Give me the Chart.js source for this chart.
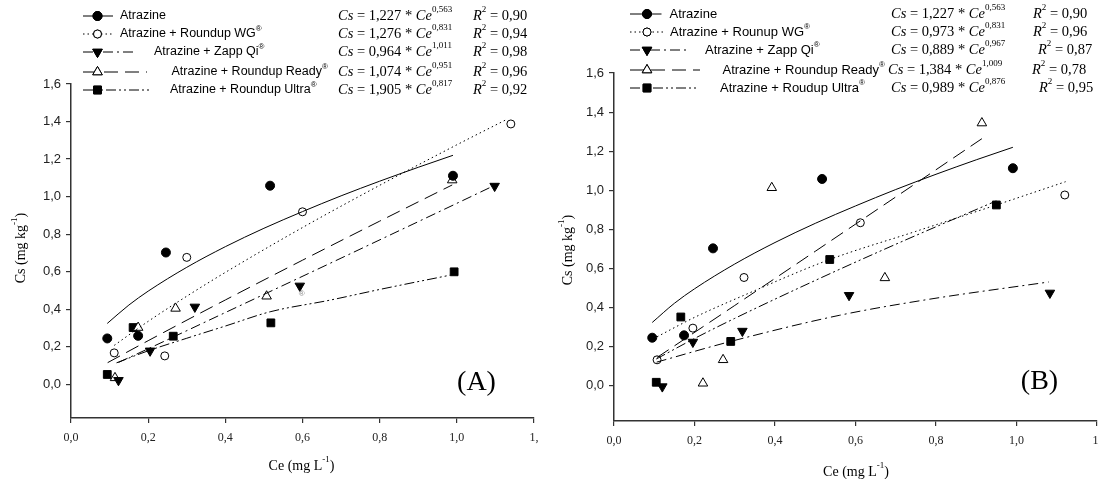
<!DOCTYPE html>
<html>
<head>
<meta charset="utf-8">
<script src="https://cdn.jsdelivr.net/npm/chart.js@4.4.1/dist/chart.umd.min.js"></script>
<style>
  html, body { margin: 0; padding: 0; background: #fff; overflow: hidden; }
  body { width: 1099px; height: 479px; position: relative; }
  canvas { position: absolute; top: 0; }
  #chartA { left: 0; }
  #chartB { left: 550px; }
</style>
</head>
<body>
<canvas id="chartA" width="548" height="479"></canvas>
<canvas id="chartB" width="560" height="479"></canvas>
<script>
// axis ticks
const xTickValues = [0, 0.2, 0.4, 0.6, 0.8, 1.0, 1.2];
const xTickLabels = ['0,0', '0,2', '0,4', '0,6', '0,8', '1,0', '1,'];
const yTickValues = [0, 0.2, 0.4, 0.6, 0.8, 1.0, 1.2, 1.4, 1.6];
const yTickLabels = ['0,0', '0,2', '0,4', '0,6', '0,8', '1,0', '1,2', '1,4', '1,6'];

// legend texts
const namesA = ['Atrazine', 'Atrazine + Roundup WG', 'Atrazine + Zapp Qi', 'Atrazine + Roundup Ready', 'Atrazine + Roundup Ultra'];
const namesB = ['Atrazine', 'Atrazine + Rounup WG', 'Atrazine + Zapp Qi', 'Atrazine + Roundup Ready', 'Atrazine + Roudup Ultra'];
const coefA = ['1,227', '1,276', '0,964', '1,074', '1,905'];
const expoA = ['0,563', '0,831', '1,011', '0,951', '0,817'];
const r2A = ['0,90', '0,94', '0,98', '0,96', '0,92'];
const coefB = ['1,227', '0,973', '0,889', '1,384', '0,989'];
const expoB = ['0,563', '0,831', '0,967', '1,009', '0,876'];
const r2B = ['0,90', '0,96', '0,87', '0,78', '0,95'];

// panel A, observed points (Ce, Cs)
const obsXA = [
    [0.094, 0.174, 0.246, 0.516, 0.990],
    [0.112, 0.243, 0.300, 0.600, 1.140],
    [0.123, 0.205, 0.321, 0.593, 1.098],
    [0.114, 0.174, 0.271, 0.507, 0.988],
    [0.094, 0.161, 0.265, 0.518, 0.993],
];
const obsYA = [
    [0.244, 0.258, 0.702, 1.058, 1.111],
    [0.167, 0.151, 0.676, 0.919, 1.387],
    [0.021, 0.178, 0.412, 0.524, 1.056],
    [0.034, 0.302, 0.404, 0.469, 1.088],
    [0.052, 0.302, 0.256, 0.327, 0.599],
];
// panel A, fitted curves as drawn
const fitXA = [
    [0.094, 0.15, 0.2, 0.3, 0.4, 0.5, 0.6, 0.7, 0.8, 0.9, 0.99],
    [0.112, 0.2, 0.3, 0.4, 0.6, 0.8, 1.0, 1.13],
    [0.123, 0.2, 0.4, 0.7, 1.0, 1.098],
    [0.095, 0.2, 0.4, 0.6, 0.8, 0.988],
    [0.118, 0.2, 0.3, 0.4, 0.516, 0.671, 0.8, 0.982],
];
const fitYA = [
    [0.324, 0.422, 0.496, 0.623, 0.733, 0.831, 0.920, 1.004, 1.082, 1.156, 1.220],
    [0.207, 0.335, 0.469, 0.596, 0.835, 1.060, 1.276, 1.412],
    [0.116, 0.189, 0.382, 0.672, 0.964, 1.060],
    [0.115, 0.232, 0.449, 0.661, 0.869, 1.062],
    [0.114, 0.178, 0.245, 0.310, 0.386, 0.448, 0.505, 0.581],
];

// panel B, observed points
const obsXB = [
    [0.095, 0.174, 0.246, 0.517, 0.991],
    [0.107, 0.196, 0.323, 0.612, 1.120],
    [0.120, 0.196, 0.319, 0.584, 1.083],
    [0.221, 0.271, 0.392, 0.673, 0.914],
    [0.105, 0.166, 0.290, 0.536, 0.950],
];
const obsYB = [
    [0.246, 0.258, 0.703, 1.058, 1.113],
    [0.133, 0.295, 0.554, 0.834, 0.976],
    [-0.004, 0.224, 0.280, 0.463, 0.475],
    [0.013, 0.133, 1.013, 0.552, 1.344],
    [0.018, 0.352, 0.227, 0.646, 0.925],
];
// panel B, fitted curves as drawn
const fitXB = [
    [0.095, 0.15, 0.2, 0.3, 0.4, 0.5, 0.6, 0.7, 0.8, 0.9, 0.991],
    [0.097, 0.2, 0.324, 0.536, 0.75, 0.95, 1.122],
    [0.106, 0.29, 0.561, 0.784, 1.08],
    [0.107, 0.3, 0.5, 0.7, 0.914],
    [0.105, 0.2, 0.3, 0.5, 0.7, 0.95],
];
const fitYB = [
    [0.324, 0.422, 0.496, 0.623, 0.733, 0.831, 0.920, 1.004, 1.082, 1.156, 1.220],
    [0.240, 0.350, 0.464, 0.646, 0.790, 0.925, 1.044],
    [0.121, 0.227, 0.361, 0.443, 0.531],
    [0.145, 0.411, 0.688, 0.966, 1.264],
    [0.137, 0.242, 0.345, 0.539, 0.724, 0.946],
];

const INK = '#000';
const AXIS = '#333';
const SANS = '"Liberation Sans", Arial, sans-serif';
const SERIF = '"Liberation Serif", "Times New Roman", serif';

const pointStyles = ['circle', 'circle', 'triangle', 'triangle', 'rect'];
const pointFilled = [true, false, true, false, true];
const pointRotations = [0, 0, 180, 0, 0];
const pointRadii = [4.5, 4, 5.5, 5.5, 5.5];
const lineDashes = [[], [1.5, 3], [10, 4, 2, 4], [14, 7], [10, 3, 2, 3, 2, 3]];

function buildDatasets(obsX, obsY, fitX, fitY) {
    const sets = [];
    fitX.forEach((xs, i) => {
        sets.push({
            data: xs.map((x, j) => ({ x, y: fitY[i][j] })),
            showLine: true,
            borderColor: INK,
            borderWidth: 1,
            borderDash: lineDashes[i],
            pointRadius: 0,
            cubicInterpolationMode: 'monotone',
            fill: false,
        });
    });
    obsX.forEach((xs, i) => {
        sets.push({
            data: xs.map((x, j) => ({ x, y: obsY[i][j] })),
            showLine: false,
            pointStyle: pointStyles[i],
            rotation: pointRotations[i],
            pointRadius: pointRadii[i],
            pointBackgroundColor: pointFilled[i] ? INK : '#fff',
            pointBorderColor: INK,
            pointBorderWidth: 1,
        });
    });
    return sets;
}

function drawRuns(ctx, x, y, runs, align) {
    let total = 0;
    runs.forEach((r) => {
        ctx.font = r.f;
        total += ctx.measureText(r.t).width;
    });
    let cx = align === 'center' ? x - total / 2 : x;
    runs.forEach((r) => {
        ctx.font = r.f;
        ctx.fillText(r.t, cx, y + (r.dy || 0));
        cx += ctx.measureText(r.t).width;
    });
}

function drawMarker(ctx, i, x, y) {
    Chart.helpers.drawPoint(ctx, {
        pointStyle: pointStyles[i],
        rotation: pointRotations[i],
        radius: pointRadii[i],
        borderWidth: 1,
    }, x, y);
    ctx.fillStyle = pointFilled[i] ? INK : '#fff';
    ctx.fill();
    ctx.stroke();
}

function decorPlugin(cfg) {
    const eq = '14.5px ' + SERIF;
    const eqItalic = 'italic 14.5px ' + SERIF;
    const sup = '9px ' + SERIF;
    return {
        id: 'decor',
        afterDraw(chart) {
            const ctx = chart.ctx;
            ctx.save();
            ctx.textBaseline = 'middle';
            ctx.fillStyle = INK;
            ctx.strokeStyle = INK;

            cfg.names.forEach((name, i) => {
                const y = cfg.rowY[i];
                // line sample
                ctx.save();
                ctx.lineWidth = 1;
                ctx.setLineDash(lineDashes[i]);
                ctx.beginPath();
                ctx.moveTo(cfg.sampleX0, y);
                ctx.lineTo(cfg.sampleX1[i], y);
                ctx.stroke();
                ctx.setLineDash([]);
                drawMarker(ctx, i, cfg.markerX, y);
                ctx.restore();

                ctx.fillStyle = INK;
                const runs = [{ t: name, f: cfg.labelFont }];
                if (i > 0) runs.push({ t: '\u00AE', f: '8px ' + SANS, dy: -5 });
                drawRuns(ctx, cfg.labelX[i], y, runs);

                drawRuns(ctx, cfg.eqX[i], y, [
                    { t: 'Cs', f: eqItalic },
                    { t: ' = ' + cfg.coef[i] + ' * ', f: eq },
                    { t: 'Ce', f: eqItalic },
                    { t: cfg.expo[i], f: sup, dy: -6 },
                ]);
                drawRuns(ctx, cfg.r2X[i], y, [
                    { t: 'R', f: eqItalic },
                    { t: '2', f: sup, dy: -6 },
                    { t: ' = ' + cfg.r2[i], f: eq },
                ]);
            });

            // axis titles
            drawRuns(ctx, cfg.xTitle[0], cfg.xTitle[1], [
                { t: 'Ce (mg L', f: '14px ' + SERIF },
                { t: '-1', f: sup, dy: -6 },
                { t: ')', f: '14px ' + SERIF },
            ], 'center');
            ctx.save();
            ctx.translate(cfg.yTitle[0], cfg.yTitle[1]);
            ctx.rotate(-Math.PI / 2);
            drawRuns(ctx, 0, 0, [
                { t: 'Cs (mg kg', f: '14px ' + SERIF },
                { t: '-1', f: sup, dy: -6 },
                { t: ')', f: '14px ' + SERIF },
            ], 'center');
            ctx.restore();

            // panel letter
            ctx.font = '28px ' + SERIF;
            ctx.textAlign = 'center';
            ctx.fillText(cfg.letter, cfg.letterPos[0], cfg.letterPos[1]);

            if (cfg.stray) {
                ctx.fillStyle = '#888';
                ctx.font = '8px ' + SANS;
                ctx.fillText('\u00AE', cfg.stray[0], cfg.stray[1]);
            }
            ctx.restore();
        },
    };
}

function scaleOptions(yAxisWidth, xAxisHeight, ymin) {
    return {
        x: {
            type: 'linear',
            min: 0,
            max: 1.2,
            afterBuildTicks: (axis) => { axis.ticks = xTickValues.map((v) => ({ value: v })); },
            afterFit: (scale) => { scale.height = xAxisHeight; },
            ticks: {
                callback: (v, i) => xTickLabels[i],
                font: { family: SERIF, size: 12 },
                color: '#222',
                padding: 8,
                maxRotation: 0,
                autoSkip: false,
            },
            grid: { drawOnChartArea: false, drawTicks: true, tickLength: 5, color: AXIS, lineWidth: 1.2 },
            border: { display: true, color: AXIS, width: 1.5 },
        },
        y: {
            type: 'linear',
            min: ymin,
            max: 1.6,
            afterBuildTicks: (axis) => { axis.ticks = yTickValues.map((v) => ({ value: v })); },
            afterFit: (scale) => { scale.width = yAxisWidth; },
            ticks: {
                callback: (v, i) => yTickLabels[i],
                font: { family: SANS, size: 13 },
                color: '#222',
                padding: 5,
            },
            grid: { drawOnChartArea: false, drawTicks: true, tickLength: 5, color: AXIS, lineWidth: 1.2 },
            border: { display: true, color: AXIS, width: 1.5 },
        },
    };
}

function makeChart(canvasId, datasets, padding, yAxisWidth, xAxisHeight, decor) {
    const canvas = document.getElementById(canvasId);
    return new Chart(canvas.getContext('2d'), {
        type: 'scatter',
        data: { datasets },
        options: {
            responsive: false,
            animation: false,
            layout: { padding },
            plugins: { legend: { display: false }, tooltip: { enabled: false } },
            scales: scaleOptions(yAxisWidth, xAxisHeight, -0.18),
        },
        plugins: [decorPlugin(decor)],
    });
}

makeChart('chartA', buildDatasets(obsXA, obsYA, fitXA, fitYA),
    { top: 84, right: 14, bottom: 0, left: 0 }, 71, 61, {
        names: namesA, coef: coefA, expo: expoA, r2: r2A,
        rowY: [16, 34, 52, 72, 90],
        sampleX0: 83, markerX: 97.5, sampleX1: [113, 113, 137, 147, 150],
        labelFont: '12.5px ' + SANS,
        labelX: [120, 120, 154, 171.5, 170],
        eqX: [338, 338, 338, 338, 338],
        r2X: [473, 473, 473, 473, 473],
        xTitle: [301.5, 466], yTitle: [21, 248],
        letter: '(A)', letterPos: [476.5, 383],
        stray: [301.7, 293.3],
    });

makeChart('chartB', buildDatasets(obsXB, obsYB, fitXB, fitYB),
    { top: 73, right: 13, bottom: 0, left: 0 }, 64, 58, {
        names: namesB, coef: coefB, expo: expoB, r2: r2B,
        rowY: [14, 32, 50, 70, 88],
        sampleX0: 80, markerX: 97, sampleX1: [111.5, 113, 140, 150, 147],
        labelFont: '13px ' + SANS,
        labelX: [119.5, 120, 155, 172.5, 170],
        eqX: [341, 341, 341, 338, 341],
        r2X: [483, 483, 488, 482, 489],
        xTitle: [306, 472], yTitle: [18, 250],
        letter: '(B)', letterPos: [489.5, 382],
        stray: null,
    });
</script>
</body>
</html>
